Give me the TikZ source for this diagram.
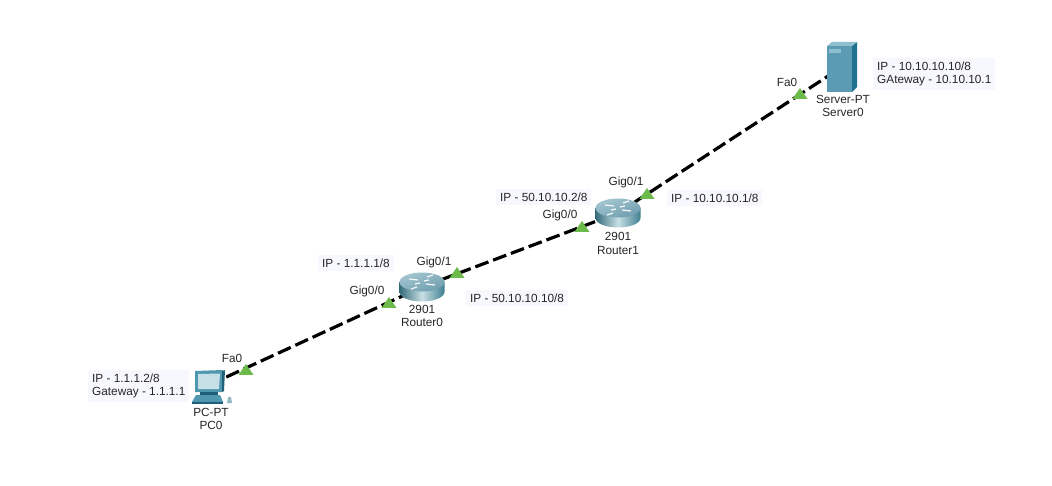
\documentclass[tikz,border=0pt]{standalone}
\usepackage{fontspec}
\setmainfont{Liberation Sans}
\usetikzlibrary{shapes.geometric}
\definecolor{notebg}{HTML}{F7F7FE}
\definecolor{port}{HTML}{6CBB4A}
\definecolor{rdark}{HTML}{3F7F90}
\definecolor{rmid}{HTML}{C8E0E4}
\definecolor{rtopa}{HTML}{A4C6D0}
\definecolor{rtopb}{HTML}{6E9DAE}
\definecolor{srvfront}{HTML}{5B9BB3}
\definecolor{srvside}{HTML}{1F7390}
\definecolor{srvtop}{HTML}{8FBECD}
\definecolor{pcblue}{HTML}{4E97AE}
\definecolor{pcdark}{HTML}{1F5F78}
\definecolor{pcscreen}{HTML}{C6E0E8}
\tikzset{
  x=1pt,y=-1pt,
  every node/.style={font=\fontsize{11.8}{13.2}\selectfont,text=black!85,inner sep=0pt},
  note/.style={fill=notebg,align=left,inner xsep=4pt,inner ysep=4pt,anchor=west},
  lbl/.style={align=center},
  device/.style={minimum width=#1,minimum height=24pt},
  link/.style={line width=3.2pt,black,dash pattern=on 14pt off 5pt},
  portmark/.style={isosceles triangle,isosceles triangle stretches,shape border rotate=90,fill=port,minimum width=15pt,minimum height=11pt,inner sep=0pt},
  swoosh/.style={white!90!rtopa,line width=1.2pt},
}
\newcommand{\routericon}[2]{%
  \begin{scope}[shift={(#1,#2)}]
    \shade[left color=rdark!85!black,right color=rdark,middle color=rmid]
      (-22.5,-5) -- (-22.5,5) arc[start angle=180,end angle=0,x radius=22.5,y radius=9.5] -- (22.5,-5) -- cycle;
    \shade[top color=rtopa,bottom color=rtopb,shading angle=20] (0,-5) ellipse[x radius=22.5,y radius=9.5];
    \begin{scope}[swoosh]
      \draw (-13,-8) -- (-4,-7);
      \draw (13,-2) -- (4,-3);
      \draw (5,-10) -- (11,-12);
      \draw (-5,0) -- (-11,2);
      \draw (-2,-4) -- (-7,-3);
      \draw (2,-6) -- (7,-7);
    \end{scope}
  \end{scope}}
\begin{document}
\begin{tikzpicture}
\useasboundingbox[fill=white] (0,0) rectangle (1052,486);
% device anchors
\node[device=32pt] (pc) at (209,385) {};
\node[device=44pt] (r0) at (422,287) {};
\node[device=44pt] (r1) at (618,213) {};
\node[device=30pt,minimum height=50pt] (srv) at (842,67) {};
% links
\draw[link] (pc.center) -- (r0.center);
\draw[link] (r0.center) -- (r1.center);
\draw[link] (r1.center) -- (srv.center);
% port markers
\node[portmark] (p1) at (246,371) {};
\node[portmark] (p2) at (389,304) {};
\node[portmark] (p3) at (457,274) {};
\node[portmark] (p4) at (582,228) {};
\node[portmark] (p5) at (647,195) {};
\node[portmark] (p6) at (800,95) {};
% routers
\routericon{422}{287}
\routericon{618}{213}
% server
\fill[srvfront] (827,46) rectangle (852,92);
\fill[srvside] (852,46) -- (857,42) -- (857,87) -- (852,92) -- cycle;
\fill[srvtop] (827,46) -- (832,42) -- (857,42) -- (852,46) -- cycle;
\fill[srvtop] (829,49) rectangle (841,53);
% pc
\fill[white] (193,370) rectangle (226,396);
\fill[pcblue] (195,371) -- (223,370) -- (222,392) -- (195,392) -- cycle;
\fill[pcdark] (222,371) -- (225,370) -- (224,391) -- (222,392) -- cycle;
\fill[pcscreen] (198,374) -- (220,373.5) -- (219,389) -- (198,389) -- cycle;
\fill[pcdark] (200,392) -- (218,392) -- (218,395) -- (200,395) -- cycle;
\fill[pcblue] (196,395) -- (220,395) -- (223,402) -- (192,402) -- cycle;
\fill[pcdark] (192,402) -- (223,402) -- (223,404) -- (192,404) -- cycle;
\fill[pcscreen!70!pcdark] (228,397) -- (231,397) -- (232,403) -- (227,403) -- cycle;
% notes
\node[note] (n1) at (88,386) {IP - 1.1.1.2/8\\Gateway - 1.1.1.1};
\node[note] (n2) at (318,263) {IP - 1.1.1.1/8};
\node[note] (n3) at (466,298) {IP - 50.10.10.10/8};
\node[note] (n4) at (496,197) {IP - 50.10.10.2/8};
\node[note] (n5) at (667,198) {IP - 10.10.10.1/8};
\node[note] (n6) at (873,74) {IP - 10.10.10.10/8\\GAteway - 10.10.10.1};
% port labels
\node (l1) at (232,358) {Fa0};
\node (l2) at (367,291) {Gig0/0};
\node (l3) at (434,262) {Gig0/1};
\node (l4) at (560,215) {Gig0/0};
\node (l5) at (626,182) {Gig0/1};
\node (l6) at (787,82) {Fa0};
% device labels
\node[lbl] (d1) at (211,419) {PC-PT\\PC0};
\node[lbl] (d2) at (422,316) {2901\\Router0};
\node[lbl] (d3) at (618,243.5) {2901\\Router1};
\node[lbl] (d4) at (843,106) {Server-PT\\Server0};
\end{tikzpicture}
\end{document}
